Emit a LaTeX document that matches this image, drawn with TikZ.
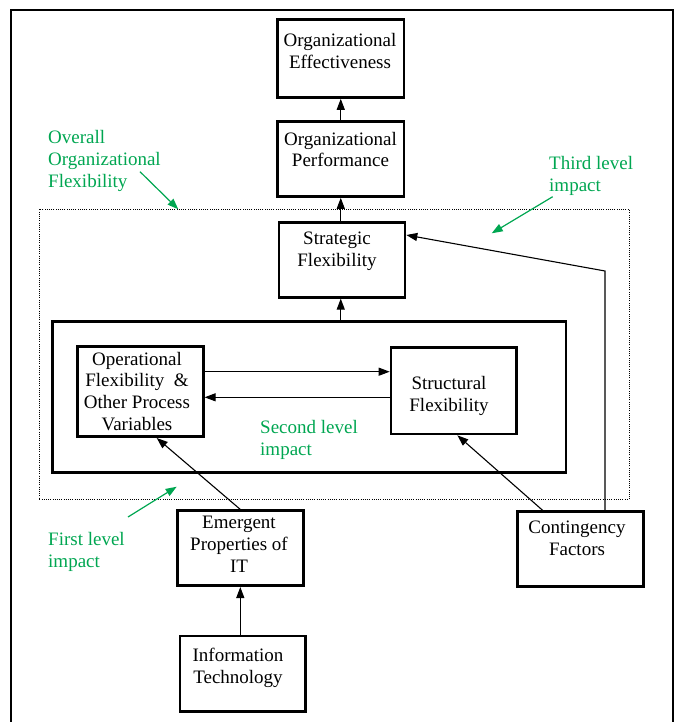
\documentclass[tikz,border=0pt]{standalone}
\usepackage{fontspec}
\setmainfont{Liberation Serif}
\usetikzlibrary{arrows.meta}
\definecolor{lvlgreen}{RGB}{0,166,81}
\begin{document}
\begin{tikzpicture}[x=1pt,y=-1pt,
  box/.style={draw, line width=2.6pt, inner sep=0pt},
  txt/.style={anchor=north, inner sep=0pt, align=center,
    font=\fontsize{19}{21.8}\selectfont, execute at begin node=\strut},
  note/.style={anchor=north west, inner sep=0pt, align=left, text=lvlgreen,
    font=\fontsize{19}{21.8}\selectfont, execute at begin node=\strut},
  conn/.style={line width=1.1pt, -{Triangle[length=11pt,width=8pt]}},
  pointer/.style={draw=lvlgreen, line width=1.2pt,
    -{Triangle[length=11pt,width=8pt,fill=lvlgreen]}},
  region/.style={draw, line width=0.9pt, dash pattern=on 1pt off 1.2pt},
]
\useasboundingbox (0,0) rectangle (676,722);

% outer frame (open at the bottom)
\draw[line width=1.2pt] (11,740) -- (11,10) -- (673,10) -- (673,740);

% overall flexibility region
\draw[region] (39,209.3) rectangle (629,499.3);

% boxes
\node[box, minimum width=126.5pt, minimum height=78pt] (eff) at (340.75,58.5) {};
\node[box, minimum width=126.5pt, minimum height=75pt] (perf) at (340.75,159) {};
\node[box, minimum width=126pt, minimum height=74.6pt] (strat) at (342,260) {};
\node[box, minimum width=513.7pt, minimum height=150.6pt] (inner) at (309.15,397) {};
\node[box, minimum width=125.6pt, minimum height=90pt] (op) at (140.5,391.7) {};
\node[box, minimum width=125.7pt, minimum height=86.7pt] (struct) at (453.85,390.65) {};
\node[box, minimum width=126pt, minimum height=75pt] (emerg) at (240.3,548.2) {};
\node[box, minimum width=125.6pt, minimum height=75pt] (cont) at (580.5,549.2) {};
\node[box, minimum width=125.7pt, minimum height=75.7pt] (it) at (242.85,673.85) {};

% box texts (y = first baseline - strut height)
\node[txt] (effT) at (340,33.2) {Organizational\\Effectiveness};
\node[txt] (perfT) at (340.5,131.7) {Organizational\\Performance};
\node[txt] (stratT) at (337,232.2) {Strategic\\Flexibility};
\node[txt] (opT) at (137,351.8) {Operational\\Flexibility\ \ \&\\Other Process\\Variables};
\node[txt] (structT) at (449,376.5) {Structural\\Flexibility};
\node[txt] (emergT) at (239,516.2) {Emergent\\Properties of\\IT};
\node[txt] (contT) at (577,521.2) {Contingency\\Factors};
\node[txt] (itT) at (238,647.9) {Information\\Technology};

% green annotations
\node[note] (overall) at (48,130.5) {Overall\\Organizational\\Flexibility};
\node[note] (third) at (549,156) {Third level\\impact};
\node[note] (second) at (260,420.5) {Second level\\impact};
\node[note] (first) at (48,532.2) {First level\\impact};

% helper coordinates
\coordinate (rowA) at (0,371.7);
\coordinate (rowB) at (0,397.3);
\coordinate (bend) at (605,271);
\coordinate (g1s) at (140,171.7);
\coordinate (g1e) at (178.3,209.3);
\coordinate (g3s) at (552.7,196.7);
\coordinate (g3e) at (491.7,233.3);
\coordinate (gfs) at (128,517);
\coordinate (gfe) at (176.7,486.7);

% connectors
\draw[conn] (perf.north) -- (eff.south);
\draw[conn] (perf.south |- strat.north) -- (perf.south);
\draw[conn] (perf.south |- inner.north) -- (perf.south |- strat.south);
\draw[conn] (op.east |- rowA) -- (struct.west |- rowA);
\draw[conn] (struct.west |- rowB) -- (op.east |- rowB);
\draw[conn] (emerg.north) -- ([xshift=16.2pt]op.south);
\draw[conn] ([xshift=-37.8pt]cont.north) -- ([xshift=3.5pt]struct.south);
\draw[conn] ([xshift=24.5pt]cont.north) -- (bend) -- ([yshift=25pt]strat.east);
\draw[conn] (emerg.south |- it.north) -- (emerg.south);

% green pointers
\draw[pointer] (g1s) -- (g1e);
\draw[pointer] (g3s) -- (g3e);
\draw[pointer] (gfs) -- (gfe);
\end{tikzpicture}
\end{document}
